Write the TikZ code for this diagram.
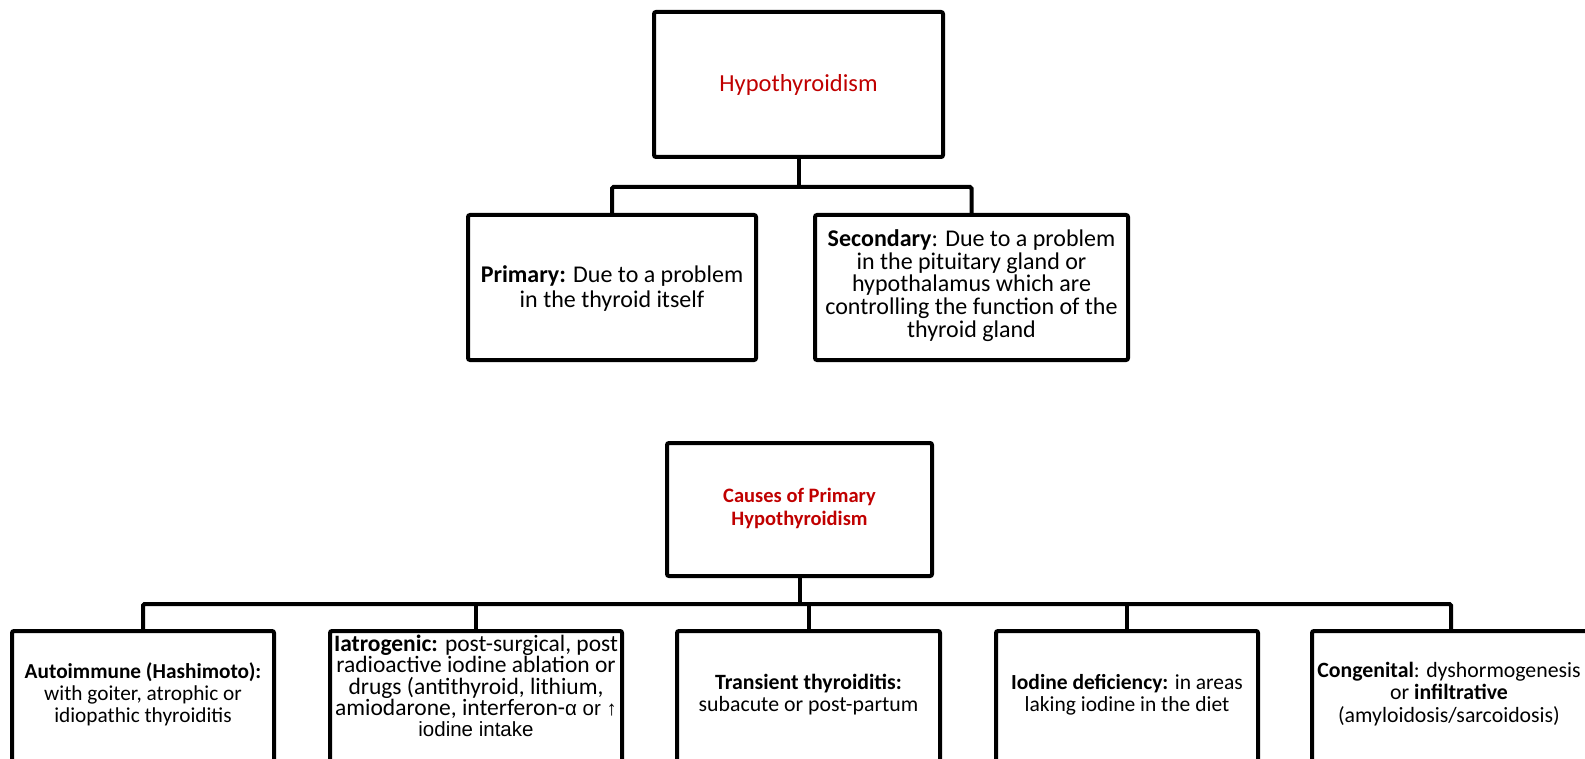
\documentclass[tikz,border=0pt]{standalone}
\usepackage{fontspec}
\setmainfont{Carlito}
\newfontfamily\arialf{Liberation Sans}
\definecolor{tred}{HTML}{C00000}
\begin{document}
\begin{tikzpicture}[x=1pt,y=-1pt,
  bx/.style 2 args={draw, line width=4pt, rounded corners=2pt, minimum width=#1, minimum height=#2, inner sep=0pt},
  conn/.style={draw, line width=4pt, rounded corners=1.5pt},
  txt/.style={align=center, inner sep=0pt, font=\fontsize{24}{22.7}\selectfont},
  stxt/.style={align=center, inner sep=0pt},
  ttl/.style={align=center, inner sep=0pt, text=tred}]
\useasboundingbox (0,0) rectangle (1585,759);
\clip (0,0) rectangle (1585,759);
% top level
\node[bx={289pt}{145pt}] (top) at (798.5,84.5) {};
\node[ttl, font=\fontsize{24.5}{24}\selectfont] (topt) at (top.center) {Hypothyroidism};
\node[bx={288pt}{145pt}] (prim) at (612,287.5) {};
\node[txt, font=\fontsize{24}{25}\selectfont] (primt) at (612,289) {\textbf{Primary:} Due to a problem\\in the thyroid itself};
\node[bx={313pt}{145pt}] (sec) at (971.5,287.5) {};
\node[txt] (sect) at (971.5,285.5) {\textbf{Secondary}: Due to a problem\\in the pituitary gland or\\hypothalamus which are\\controlling the function of the\\thyroid gland};
\coordinate (j1) at (798.5,187);
\draw[conn] (top.south) -- (j1);
\draw[conn] (prim.north) |- (sec.north |- j1) -- (sec.north);
% second level
\node[bx={265pt}{133pt}] (causes) at (799.5,509.5) {};
\node[ttl, font=\bfseries\fontsize{20.5}{22.5}\selectfont] (causest) at (799.5,508.5) {Causes of Primary\\Hypothyroidism};
\node[bx={262pt}{200pt}] (auto) at (143,731) {};
\node[bx={292pt}{200pt}] (iat) at (476,731) {};
\node[bx={263pt}{200pt}] (tra) at (808.5,731) {};
\node[bx={262pt}{200pt}] (iod) at (1127,731) {};
\node[bx={278pt}{200pt}] (cong) at (1451,731) {};
\node[stxt, font=\fontsize{21.3}{22}\selectfont] (autot) at (143,694) {\textbf{Autoimmune (Hashimoto):}\\with goiter, atrophic or\\idiopathic thyroiditis};
\node[stxt, font=\fontsize{23.5}{21.2}\selectfont] (iatt) at (476,686) {\textbf{Iatrogenic:} post-surgical, post\\radioactive iodine ablation or\\drugs (antithyroid, lithium,\\amiodarone, interferon-{\arialf\fontsize{20.5}{21.2}\selectfont α or ↑}\\{\arialf\fontsize{20.5}{21.2}\selectfont iodine intake}};
\node[stxt, font=\fontsize{21.8}{22}\selectfont] (trat) at (808.5,695) {\textbf{Transient thyroiditis:}\\subacute or post-partum};
\node[stxt, font=\fontsize{21.5}{22}\selectfont] (iodt) at (1127,695) {\textbf{Iodine deficiency:} in areas\\laking iodine in the diet};
\node[stxt, font=\fontsize{21.8}{22.4}\selectfont] (congt) at (1449,694) {\textbf{Congenital}: dyshormogenesis\\or \textbf{infiltrative}\\(amyloidosis/sarcoidosis)};
\coordinate (j2) at (799.5,604);
\draw[conn] (causes.south) -- (j2);
\draw[conn] (auto.north) |- (cong.north |- j2) -- (cong.north);
\foreach \n in {iat,tra,iod} \draw[conn] (\n.north) -- (\n.north |- j2);
\end{tikzpicture}
\end{document}
